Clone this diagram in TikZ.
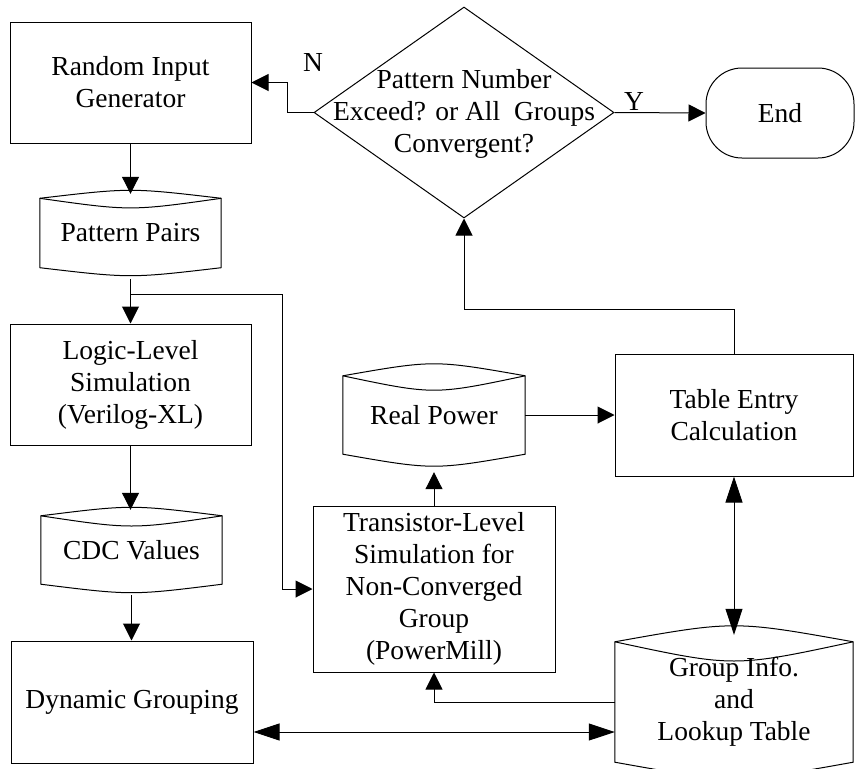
\documentclass[tikz,border=0pt]{standalone}
\usepackage{fontspec}
\setmainfont{Liberation Serif}
\usetikzlibrary{shapes.geometric,arrows.meta,calc}

\tikzset{
  procbox/.style={draw, line width=1pt, inner sep=0pt, align=center},
  storebox/.style={inner sep=0pt, align=center},
  decision/.style={draw, diamond, line width=1pt, inner sep=0pt},
  flow/.style={line width=1pt, -{Triangle[length=17pt,width=17pt]}},
  flowboth/.style={line width=1pt, {Triangle[length=26pt,width=17pt]}-{Triangle[length=26pt,width=17pt]}},
}

% outline of a stored-data symbol round node #1, lens depth #2, raised by #3
\newcommand{\storeoutline}[3]{%
  \begin{scope}[yshift=#3]
  \draw[line width=1pt] ($(#1.north west)+(0,#2)$)
      .. controls ($(#1.north)+(0,-#2/3)$) .. ($(#1.north east)+(0,#2)$)
      -- ($(#1.south east)+(0,-#2)$)
      .. controls ($(#1.south)+(0,#2/3)$) .. ($(#1.south west)+(0,-#2)$) -- cycle;
  \draw[line width=1pt] ($(#1.north west)+(0,#2)$)
      .. controls ($(#1.north)+(0,2.6*#2)$) .. ($(#1.north east)+(0,#2)$);
  \end{scope}}

\begin{document}
\begin{tikzpicture}[x=1pt,y=1pt,yscale=-1,xscale=1,
  every node/.style={font=\fontsize{27.5}{32}\selectfont}]
\useasboundingbox (0,0) rectangle (855,769);

%Shape: Rectangle
\node[procbox, minimum width=241pt, minimum height=121pt] (rig) at (130.5,82.5) {Random Input\\Generator};
%Shape: Store
\node[storebox, minimum width=181pt, minimum height=85pt] (pairs) at (130.5,233) {Pattern Pairs};
\storeoutline{pairs}{8}{3.5pt}
%Shape: Rectangle
\node[procbox, minimum width=241pt, minimum height=121pt] (logic) at (130.5,384.5) {Logic-Level\\Simulation\\(Verilog-XL)};
%Shape: Store
\node[storebox, minimum width=181pt, minimum height=85pt] (cdc) at (131.5,550) {CDC Values};
\storeoutline{cdc}{8.5}{2.5pt}
%Shape: Rectangle
\node[procbox, minimum width=242pt, minimum height=122pt] (dyn) at (132,702) {Dynamic Grouping};

%Shape: Diamond
\node[decision, minimum width=300pt, minimum height=211pt] (test) at (464,112.5) {};
% Text Node
\node[align=center] (testtext) at (464,114) {Pattern Number\\Exceed? or All\ \ Groups\\Convergent?};
%Shape: Terminal
\node[draw, line width=1pt, rounded corners=36pt, minimum width=148pt, minimum height=90pt] (finish) at (780,113) {End};

%Shape: Store
\node[storebox, minimum width=182pt, minimum height=102pt] (power) at (434,415) {Real Power};
\storeoutline{power}{12}{6pt}
%Shape: Rectangle
\node[procbox, minimum width=242pt, minimum height=166pt] (trans) at (434,589) {Transistor-Level\\Simulation for\\Non-Converged\\Group\\(PowerMill)};
%Shape: Rectangle
\node[procbox, minimum width=238pt, minimum height=122pt] (table) at (734,415) {Table Entry\\Calculation};
%Shape: Store
\node[storebox, minimum width=238pt, minimum height=152pt] (group) at (734,702) {Group Info.\\and\\Lookup Table};
\storeoutline{group}{16}{9pt}

% Text Node
\node (nlabel) at (313,62) {N};
% Text Node
\node (ylabel) at (634,101) {Y};

% main chain
\draw[flow] (rig.south) -- ([yshift=3.5pt]pairs.north);
\draw[flow] ([yshift=3.5pt]pairs.south) -- (logic.north);
\draw[flow] (logic.south) -- ([yshift=2.5pt]logic.south |- cdc.north);
\draw[flow] ([yshift=2.5pt]cdc.south) -- (cdc.south |- dyn.north);
% branch to transistor-level run
\coordinate (split) at (130.5,294);
\coordinate (bend) at (282,294);
\draw[flow] (split) -- (bend) |- (trans.west);
\draw[flow] (trans.north) -- ([yshift=6pt]power.south);
\draw[flow] (power.east |- table.west) -- (table.west);
\draw[flowboth] (table.south) -- ([yshift=9pt]group.north);
\draw[flow] (group.west) -| (trans.south);
\draw[flowboth] ($(dyn.east)+(0,30)$) -- ($(group.west)+(0,30)$);
% loop back to the test
\draw[flow] (table.north) -- ++(0,-44) -| (test.south);
\draw[flow] (test.west) -- ++(-26,0) |- (rig.east);
\draw[flow] (test.east) -- (finish.west);

\end{tikzpicture}
\end{document}
